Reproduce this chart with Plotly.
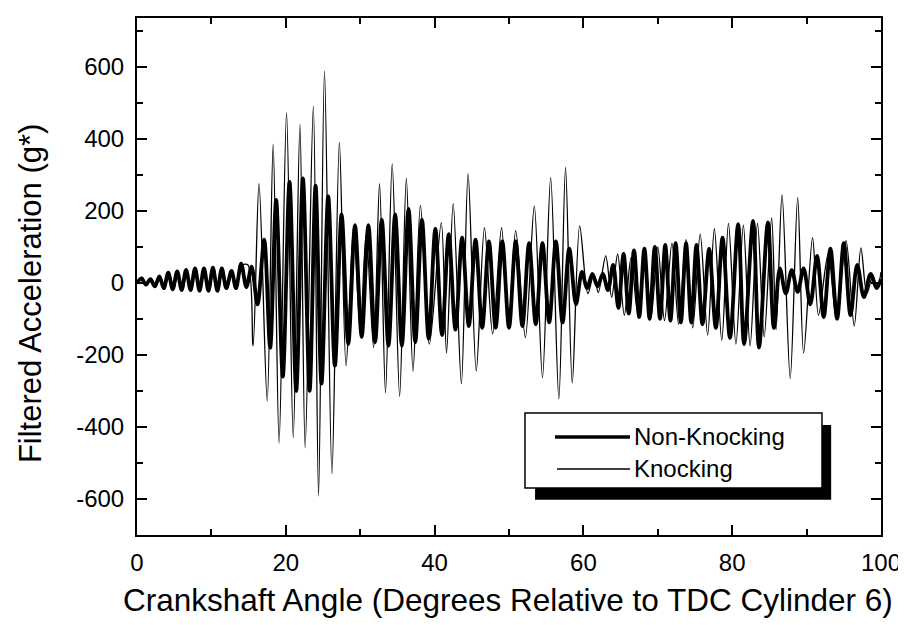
import plotly.graph_objects as go

# ---------------- data ----------------
# Non-Knocking (thick line): successive extrema, crank angle (deg) and acceleration (g*)
nonknock_x = [0, 0.6, 1.2, 1.8, 2.4, 3.0, 3.6, 4.2, 4.8, 5.4, 6.0, 6.6, 7.2, 7.8, 8.4, 9.0,
              9.6, 10.2, 10.8, 11.4, 12.0, 12.7, 13.3, 14.0, 14.7, 15.4, 16.2, 17.1, 17.9,
              18.7, 19.6, 20.5, 21.4, 22.3, 23.2, 24.0, 24.8, 25.7, 26.6, 27.5, 28.4, 29.3,
              30.2, 31.1, 32.0, 32.9, 33.8, 34.7, 35.6, 36.5, 37.4, 38.3, 39.2, 40.1, 41.0,
              41.9, 42.8, 43.7, 44.6, 45.5, 46.4, 47.3, 48.2, 49.1, 50.0, 50.9, 51.8, 52.7,
              53.6, 54.5, 55.4, 56.3, 57.2, 58.1, 59.0, 59.8, 60.5, 61.2, 61.9, 62.6, 63.3,
              64.0, 64.7, 65.4, 66.1, 66.8, 67.5, 68.2, 68.9, 69.6, 70.3, 71.0, 71.7, 72.4,
              73.1, 73.8, 74.5, 75.2, 76.0, 76.9, 77.8, 78.7, 79.7, 80.8, 81.6, 82.8, 83.6,
              84.8, 85.6, 86.4, 87.2, 88.0, 88.8, 89.6, 90.5, 91.4, 92.3, 93.2, 94.1, 95.0,
              95.9, 96.8, 97.7, 98.6, 99.4, 100]
nonknock_y = [0, 12, -5, 10, -10, 18, -15, 28, -18, 32, -20, 36, -20, 40, -22, 40,
              -22, 42, -22, 40, -15, 33, -15, 53, -12, 45, -60, 120, -180,
              230, -260, 280, -300, 290, -300, 270, -280, 240, -230, 190, -170, 160,
              -150, 160, -165, 175, -175, 190, -175, 205, -165, 175, -155, 150, -145,
              135, -130, 125, -120, 120, -125, 115, -125, 115, -125, 115, -120, 110,
              -115, 110, -110, 115, -110, 95, -60, 30, -15, 25, -10, 25, -20,
              50, -70, 80, -85, 90, -95, 95, -100, 100, -100, 105, -105, 110,
              -110, 110, -110, 105, -115, 94, -125, 125, -153, 163, -170, 172, -180,
              168, -125, 40, -30, 35, -25, 40, -60, 75, -95, 95, -100, 110,
              -90, 50, -40, 25, -15, 10]

# Knocking (thin line): successive extrema
knock_x = [0, 0.7, 1.3, 1.9, 2.5, 3.1, 3.7, 4.3, 4.9, 5.5, 6.1, 6.7, 7.3, 7.9, 8.5, 9.1,
           9.7, 10.3, 10.9, 11.5, 12.1, 12.8, 13.4, 14.1, 14.9, 15.6, 16.4, 17.5, 18.3,
           19.1, 20.1, 21.0, 21.9, 22.6, 23.7, 24.4, 25.2, 26.2, 27.2, 28.1, 29.1, 30.0,
           30.8, 31.8, 32.6, 33.4, 34.3, 35.3, 36.2, 37.1, 38.1, 39.3, 40.9, 41.6, 42.5,
           43.6, 44.5, 45.6, 46.7, 47.8, 49.0, 49.9, 50.9, 52.2, 53.4, 54.5, 55.6, 56.7,
           57.6, 58.5, 59.5, 60.6, 61.4, 62.0, 63.0, 63.8, 64.6, 65.5, 66.4, 67.3, 68.2,
           69.1, 70.0, 70.9, 71.9, 72.8, 73.8, 74.7, 75.7, 76.7, 77.6, 78.6, 79.5, 80.5,
           81.5, 82.4, 83.4, 84.3, 85.3, 85.9, 86.7, 87.8, 88.8, 89.6, 90.8, 91.6, 92.9,
           94.0, 95.3, 96.4, 97.3, 98.1, 98.9, 99.5, 100]
knock_y = [0, 15, -8, 12, -12, 20, -15, 25, -20, 30, -22, 34, -22, 38, -25, 38,
           -25, 40, -25, 38, -18, 30, -18, 48, 50, -175, 275, -328, 385,
           -445, 472, -430, 440, -458, 490, -592, 588, -530, 390, -230, 150, -128,
           135, -180, 275, -305, 330, -315, 290, -245, 215, -170, 167, -195, 220,
           -280, 302, -245, 153, -142, 153, -125, 145, -152, 213, -263, 292, -322,
           320, -278, 158, -30, 25, -27, 75, -40, 80, -90, 70, -85, 90,
           -95, 100, -105, 110, -115, 120, -125, 135, -145, 150, -160, 165, -170,
           160, -175, 165, -150, 180, -130, 245, -265, 237, -195, 125, -90, 80,
           -100, 117, -120, 97, -30, 20, -15, 30]

x_ticks = [0, 20, 40, 60, 80, 100]
x_ticklabels = ["0", "20", "40", "60", "80", "100"]
y_ticks = [-600, -400, -200, 0, 200, 400, 600]
y_ticklabels = ["-600", "-400", "-200", "0", "200", "400", "600"]
series_names = ["Non-Knocking", "Knocking"]
x_title = "Crankshaft Angle (Degrees Relative to TDC Cylinder 6)"
y_title = "Filtered Acceleration (g*)"

FONT = "Liberation Sans, Arial, Helvetica, sans-serif"

fig = go.Figure()
fig.add_trace(go.Scatter(x=nonknock_x, y=nonknock_y, mode="lines", name=series_names[0],
                         line=dict(color="black", width=3.8, shape="spline", smoothing=0.9),
                         showlegend=False))
fig.add_trace(go.Scatter(x=knock_x, y=knock_y, mode="lines", name=series_names[1],
                         line=dict(color="black", width=1.3, shape="spline", smoothing=0.9),
                         showlegend=False))

axis_common = dict(showgrid=False, zeroline=False, showline=True, linecolor="black",
                   linewidth=2, mirror="ticks", ticks="inside", ticklen=10, tickwidth=2,
                   tickcolor="black", automargin=False,
                   tickfont=dict(family=FONT, size=24, color="black"))

fig.update_xaxes(range=[0, 100], tickvals=x_ticks, ticktext=x_ticklabels,
                 ticklabelstandoff=5,
                 minor=dict(ticks="inside", ticklen=6, tickwidth=2, dtick=10, tick0=0,
                            tickcolor="black"),
                 **axis_common)
fig.update_yaxes(range=[-700, 735], tickvals=y_ticks, ticktext=y_ticklabels,
                 ticklabelstandoff=6,
                 minor=dict(ticks="inside", ticklen=6, tickwidth=2, dtick=100, tick0=0,
                            tickcolor="black"),
                 **axis_common)

# manual legend with drop shadow (paper coordinates)
shapes = [
    dict(type="rect", xref="paper", yref="paper", x0=0.535, x1=0.933, y0=0.068, y1=0.213,
         fillcolor="black", line=dict(width=0), layer="above"),
    dict(type="rect", xref="paper", yref="paper", x0=0.5215, x1=0.9207, y0=0.091, y1=0.236,
         fillcolor="white", line=dict(color="black", width=1.5), layer="above"),
    dict(type="line", xref="paper", yref="paper", x0=0.5618, x1=0.6626, y0=0.1896, y1=0.1896,
         line=dict(color="black", width=3.5), layer="above"),
    dict(type="line", xref="paper", yref="paper", x0=0.5645, x1=0.6626, y0=0.1277, y1=0.1277,
         line=dict(color="black", width=1.3), layer="above"),
]
annotations = [
    dict(text=series_names[0], xref="paper", yref="paper", x=0.6653, y=0.1896,
         xanchor="left", yanchor="middle", showarrow=False,
         font=dict(family=FONT, size=24, color="black")),
    dict(text=series_names[1], xref="paper", yref="paper", x=0.6653, y=0.1277,
         xanchor="left", yanchor="middle", showarrow=False,
         font=dict(family=FONT, size=24, color="black")),
    dict(text=y_title, xref="paper", yref="paper", x=-0.1438, y=0.466,
         xanchor="center", yanchor="middle", textangle=-90, showarrow=False,
         font=dict(family=FONT, size=31, color="black")),
    dict(text=x_title, xref="paper", yref="paper", x=0.499, y=-0.1257,
         xanchor="center", yanchor="middle", showarrow=False,
         font=dict(family=FONT, size=31.5, color="black")),
]

# the page body adds an 8 px offset, so margins are reduced accordingly
fig.update_layout(width=906, height=625, paper_bgcolor="white", plot_bgcolor="white",
                  margin=dict(l=129, r=33, t=10, b=98), shapes=shapes,
                  annotations=annotations, showlegend=False,
                  font=dict(family=FONT, color="black"))

fig.write_html("out.html")
